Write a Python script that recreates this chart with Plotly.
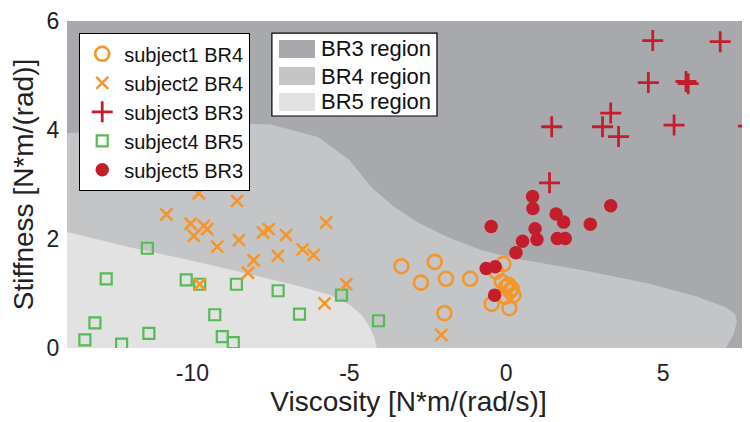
import plotly.graph_objects as go

# ---------------- data ----------------
s1_x = [-3.34, -2.28, -2.72, -1.92, -1.15, -1.97, -0.09, -0.32, -0.14, 0.07, 0.18, 0.0, 0.23, -0.03, -0.46, 0.10, 0.12]
s1_y = [1.50, 1.58, 1.20, 1.27, 1.27, 0.64, 1.54, 1.40, 1.22, 1.16, 1.09, 1.12, 0.97, 0.94, 0.81, 0.73, 1.05]

s2_x = [-9.80, -8.58, -10.83, -10.06, -9.64, -9.53, -9.96, -9.21, -8.52, -7.75, -7.57, -7.02, -5.74,
        -8.05, -7.28, -6.49, -6.14, -8.23, -5.10, -5.79, -9.77, -2.07]
s2_y = [2.84, 2.70, 2.45, 2.28, 2.24, 2.18, 2.06, 1.86, 1.98, 2.12, 2.18, 2.07, 2.30,
        1.61, 1.69, 1.81, 1.71, 1.38, 1.17, 0.82, 1.17, 0.24]

s3_x = [4.67, 6.82, 4.53, 5.73, 5.80, 3.33, 3.07, 3.58, 1.45, 5.35, 7.72, 1.38]
s3_y = [5.64, 5.62, 4.87, 4.89, 4.85, 4.31, 4.06, 3.88, 4.06, 4.09, 4.07, 3.03]

s4_x = [-11.44, -12.75, -10.20, -9.77, -8.60, -7.27, -5.25, -4.07, -9.29, -6.59, -13.11, -13.43, -12.26, -11.39, -9.05, -8.70]
s4_y = [1.83, 1.27, 1.25, 1.17, 1.17, 1.05, 0.97, 0.50, 0.61, 0.62, 0.46, 0.15, 0.07, 0.27, 0.21, 0.10]

s5_x = [0.84, 0.85, 1.59, 1.83, 3.33, 2.68, -0.48, 0.92, 0.98, 1.63, 1.88, 0.52, 0.31, -0.64, -0.35, -0.37]
s5_y = [2.78, 2.56, 2.46, 2.31, 2.61, 2.27, 2.23, 2.19, 1.99, 2.01, 2.01, 1.96, 1.75, 1.46, 1.49, 0.97]

# region boundaries (BR4 upper edge, BR5 upper edge)
br4_x = [-14, -14, -11, -8.5, -7.5, -6.0, -5.0, -4.3, -3.6, -2.8, -1.8, -0.8, 0.2, 2.4, 4.5, 6.1, 7.0, 7.3, 7.35, 7.25, 7.0]
br4_y = [0, 3.94, 4.05, 4.12, 4.10, 3.87, 3.45, 2.95, 2.60, 2.30, 2.02, 1.80, 1.65, 1.43, 1.19, 0.94, 0.75, 0.62, 0.48, 0.25, 0]

br5_x = [-14, -14, -12, -10, -8, -6.5, -5.6, -5.0, -4.6, -4.35, -4.2, -4.12]
br5_y = [0, 2.13, 1.85, 1.60, 1.33, 1.12, 0.97, 0.80, 0.60, 0.38, 0.18, 0]

x_ticks = [-10, -5, 0, 5]
x_tick_text = ["-10", "-5", "0", "5"]
y_ticks = [0, 2, 4, 6]
y_tick_text = ["0", "2", "4", "6"]
region_names = ["BR3 region", "BR4 region", "BR5 region"]

# ---------------- styles ----------------
ORANGE = "#f5962a"
RED = "#c41e2c"
GREEN = "#55bb55"
C_BR3 = "#a8a9ac"
C_BR4 = "#c4c5c7"
C_BR5 = "#e2e2e3"
FONT = "Liberation Sans, Arial, sans-serif"

fig = go.Figure()

fig.add_trace(go.Scatter(x=br4_x, y=br4_y, fill="toself", fillcolor=C_BR4, mode="lines",
                         line=dict(width=0, color=C_BR4), showlegend=False, hoverinfo="skip"))
fig.add_trace(go.Scatter(x=br5_x, y=br5_y, fill="toself", fillcolor=C_BR5, mode="lines",
                         line=dict(width=0, color=C_BR5), showlegend=False, hoverinfo="skip"))

fig.add_trace(go.Scatter(x=s4_x, y=s4_y, mode="markers", name="subject4 BR5", legendrank=4,
                         marker=dict(symbol="square-open", size=11, color=GREEN, line=dict(width=2.2, color=GREEN))))
fig.add_trace(go.Scatter(x=s2_x, y=s2_y, mode="markers", name="subject2 BR4", legendrank=2,
                         marker=dict(symbol="x-thin", size=12, color=ORANGE, line=dict(width=2.6, color=ORANGE))))
fig.add_trace(go.Scatter(x=s1_x, y=s1_y, mode="markers", name="subject1 BR4", legendrank=1,
                         marker=dict(symbol="circle-open", size=14, color=ORANGE, line=dict(width=2.6, color=ORANGE))))
fig.add_trace(go.Scatter(x=s3_x, y=s3_y, mode="markers", name="subject3 BR3", legendrank=3,
                         marker=dict(symbol="cross-thin", size=15, color=RED, line=dict(width=2.8, color=RED))))
fig.add_trace(go.Scatter(x=s5_x, y=s5_y, mode="markers", name="subject5 BR3", legendrank=5,
                         marker=dict(symbol="circle", size=13.5, color=RED, line=dict(width=0))))

# manual region legend (box, swatches, labels)
lx0, lx1, ly0, ly1 = 0.300, 0.5417, 0.7095, 0.963
fig.add_shape(type="rect", xref="paper", yref="paper", x0=lx0, x1=lx1, y0=ly0, y1=ly1,
              line=dict(color="black", width=1.2), fillcolor="white", layer="above")
row_cy = [0.9144, 0.8318, 0.7523]
sw_h = 0.0275
for name, col, cy in zip(region_names, [C_BR3, C_BR4, C_BR5], row_cy):
    fig.add_shape(type="rect", xref="paper", yref="paper", x0=0.3104, x1=0.3631,
                  y0=cy - sw_h, y1=cy + sw_h, line=dict(width=0), fillcolor=col, layer="above")
    fig.add_annotation(x=0.369, y=cy, xref="paper", yref="paper", text=name, showarrow=False,
                       xanchor="left", yanchor="middle", font=dict(family=FONT, size=22, color="#111"))

# the page has an 8px body margin, so the figure is sized to fill the rest of the window
fig.update_layout(
    width=742, height=414,
    margin=dict(l=59, r=0, t=13, b=74, autoexpand=False),
    paper_bgcolor="white", plot_bgcolor=C_BR3,
    font=dict(family=FONT, color="#222"),
    legend=dict(x=0.0176, y=0.963, xanchor="left", yanchor="top",
                bgcolor="white", bordercolor="black", borderwidth=1.2,
                font=dict(family=FONT, size=20, color="#111"),
                tracegroupgap=0, itemwidth=34),
    showlegend=True,
)
fig.update_xaxes(range=[-14, 7.77], tickvals=x_ticks, ticktext=x_tick_text, automargin=False,
                 showgrid=False, zeroline=False, showline=False,
                 ticks="outside", ticklen=4, tickcolor="rgba(0,0,0,0)",
                 tickfont=dict(family=FONT, size=23, color="#222"),
                 title=dict(text="Viscosity [N*m/(rad/s)]", font=dict(family=FONT, size=28, color="#222"), standoff=6))
fig.update_yaxes(range=[0, 6], tickvals=y_ticks, ticktext=y_tick_text, automargin=False,
                 showgrid=False, zeroline=False, showline=False,
                 ticks="outside", ticklen=2, tickcolor="rgba(0,0,0,0)",
                 tickfont=dict(family=FONT, size=23, color="#222"),
                 title=dict(text="Stiffness [N*m/(rad)]", font=dict(family=FONT, size=28, color="#222"), standoff=6))

fig.write_html("out.html")
